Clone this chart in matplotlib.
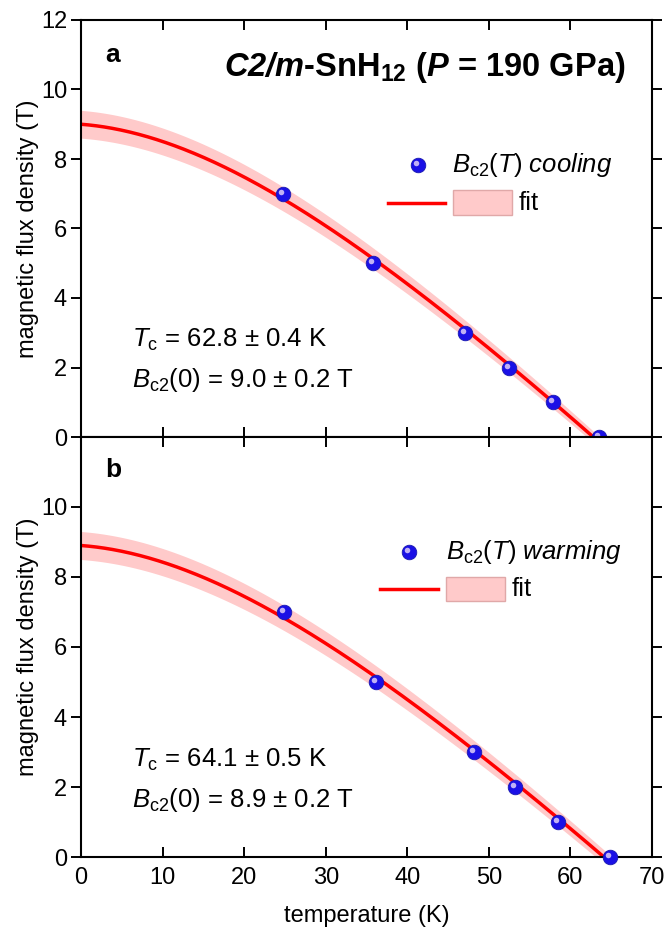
import numpy as np
import matplotlib
matplotlib.use("Agg")
import matplotlib.pyplot as plt
from matplotlib.lines import Line2D
from matplotlib.patches import Rectangle
import matplotlib.transforms as mtransforms

plt.rcParams['font.family'] = ['Liberation Sans', 'DejaVu Sans']
plt.rcParams['mathtext.fontset'] = 'custom'
plt.rcParams['mathtext.rm'] = 'Liberation Sans'
plt.rcParams['mathtext.it'] = 'Liberation Sans:italic'
plt.rcParams['mathtext.bf'] = 'Liberation Sans:bold'
plt.rcParams['mathtext.bfit'] = 'Liberation Sans:bold:italic'

# ---- data ----
T_cool = [24.8, 35.8, 47.1, 52.5, 57.9, 63.5]
B_cool = [7.0, 5.0, 3.0, 2.0, 1.0, 0.0]
T_warm = [24.9, 36.2, 48.2, 53.2, 58.5, 64.9]
B_warm = [7.0, 5.0, 3.0, 2.0, 1.0, 0.0]

Tc_fit = [62.8, 64.1]
Tc_err = [0.4, 0.5]
B0_fit = [9.0, 8.9]
B0_err = [0.2, 0.2]

panel_labels = ['a', 'b']
legend_labels = [r'$B_{\rm c2}$($T$) $\mathit{cooling}$', r'$B_{\rm c2}$($T$) $\mathit{warming}$']
xticks = [0, 10, 20, 30, 40, 50, 60, 70]
yticks_top = [0, 2, 4, 6, 8, 10, 12]
yticks_bot = [0, 2, 4, 6, 8, 10]


def whh(T, B0, Tc):
    t = np.asarray(T) / Tc
    u = 1 - t
    h = (u - 0.153 * u**2 - 0.152 * u**4) / 0.695
    return B0 * h


fig = plt.figure(figsize=(6.67, 9.36), dpi=100)
ax1 = fig.add_axes([81/667, 1-437/936, 571/667, 417/936])
ax2 = fig.add_axes([81/667, 1-857/936, 571/667, 420/936])

datasets = [(T_cool, B_cool), (T_warm, B_warm)]
band_color = '#ffcaca'
line_color = '#ff0000'
mk_face = '#1a10e6'
mk_edge = '#1a1ab0'
mk_hi = '#c0b0f5'

leg_pos = [
    dict(mx=0.590, my=0.652, tx=0.650, ry=0.561, lx0=0.538, lx1=0.637, px0=0.651, px1=0.755, py0=0.532, py1=0.592, fx=0.767),
    dict(mx=0.574, my=0.726, tx=0.639, ry=0.638, lx0=0.524, lx1=0.625, px0=0.639, px1=0.743, py0=0.610, py1=0.667, fx=0.755),
]
text_pos = [(0.233, 0.137), (0.231, 0.136)]

for i, ax in enumerate([ax1, ax2]):
    Tx, By = datasets[i]
    Tc, B0 = Tc_fit[i], B0_fit[i]
    dT, dB = 2 * Tc_err[i], 2 * B0_err[i]
    Tgrid = np.linspace(0, Tc + dT, 400)
    up = np.where(Tgrid <= Tc + dT, whh(np.minimum(Tgrid, Tc + dT), B0 + dB, Tc + dT), 0)
    lo = np.where(Tgrid <= Tc - dT, whh(np.minimum(Tgrid, Tc - dT), B0 - dB, Tc - dT), 0)
    lo = np.clip(lo, 0, None)
    ax.fill_between(Tgrid, lo, up, color=band_color, lw=0, zorder=1)
    Tl = np.linspace(0, Tc, 400)
    ax.plot(Tl, whh(Tl, B0, Tc), color=line_color, lw=2.5, zorder=2)
    ax.scatter(Tx, By, s=110, color=mk_face, edgecolor=mk_edge, lw=0.6, zorder=3, clip_on=False)
    off = mtransforms.offset_copy(ax.transData, fig=fig, x=-2.0, y=2.0, units='dots')
    ax.scatter(Tx, By, s=16, color=mk_hi, lw=0, zorder=4, transform=off, clip_on=False)

    ax.set_xlim(0, 70)
    ax.set_ylim(0, 12)
    ax.set_xticks(xticks)
    ax.set_yticks(yticks_top if i == 0 else yticks_bot)
    ax.tick_params(axis='both', which='both', labelsize=17, width=1.4, length=7,
                   top=True, right=True, direction='in')
    ax.tick_params(axis='y', which='both', left=True, direction='out', pad=3)
    ax.tick_params(axis='x', pad=7)
    for s in ax.spines.values():
        s.set_linewidth(1.5)
    ax.set_ylabel('magnetic flux density (T)', fontsize=17, labelpad=1)

    ax.text(0.042, 0.916 if i == 0 else 0.921, panel_labels[i], transform=ax.transAxes,
            fontsize=19, fontweight='bold', va='center', ha='left')

    # legend (manual)
    p = leg_pos[i]
    tr = ax.transAxes
    ax.scatter([p['mx']], [p['my']], s=110, color=mk_face, edgecolor=mk_edge, lw=0.6,
               transform=tr, zorder=5, clip_on=False)
    offa = mtransforms.offset_copy(tr, fig=fig, x=-2.0, y=2.0, units='dots')
    ax.scatter([p['mx']], [p['my']], s=16, color=mk_hi, lw=0, transform=offa, zorder=6)
    ax.text(p['tx'], p['my'], legend_labels[i], transform=tr, fontsize=18.5, va='center', ha='left')
    ax.add_line(Line2D([p['lx0'], p['lx1']], [p['ry'], p['ry']], color=line_color, lw=2.5, transform=tr))
    ax.add_patch(Rectangle((p['px0'], p['py0']), p['px1'] - p['px0'], p['py1'] - p['py0'],
                           transform=tr, facecolor=band_color, edgecolor='#e0a8a8', lw=1))
    ax.text(p['fx'], p['ry'], 'fit', transform=tr, fontsize=18.5, va='center', ha='left')

    ty1, ty2 = text_pos[i]
    ax.text(0.09, ty1, r'$T_{\rm c}$ = %.1f ± %.1f K' % (Tc, Tc_err[i]), transform=tr,
            fontsize=18.5, va='center', ha='left')
    ax.text(0.09, ty2, r'$B_{\rm c2}$(0) = %.1f ± %.1f T' % (B0, B0_err[i]), transform=tr,
            fontsize=18.5, va='center', ha='left')

ax1.tick_params(axis='x', labelbottom=False)
ax1.text(0.954, 0.885, r'$\mathbfit{C2/m}$-SnH$_{\mathbf{12}}$ ($\mathbfit{P}$ = 190 GPa)',
         transform=ax1.transAxes, fontsize=23.5, fontweight='bold', ha='right', va='center')
ax2.set_xlabel('temperature (K)', fontsize=17, labelpad=12)

fig.savefig('out.png', dpi=100)
